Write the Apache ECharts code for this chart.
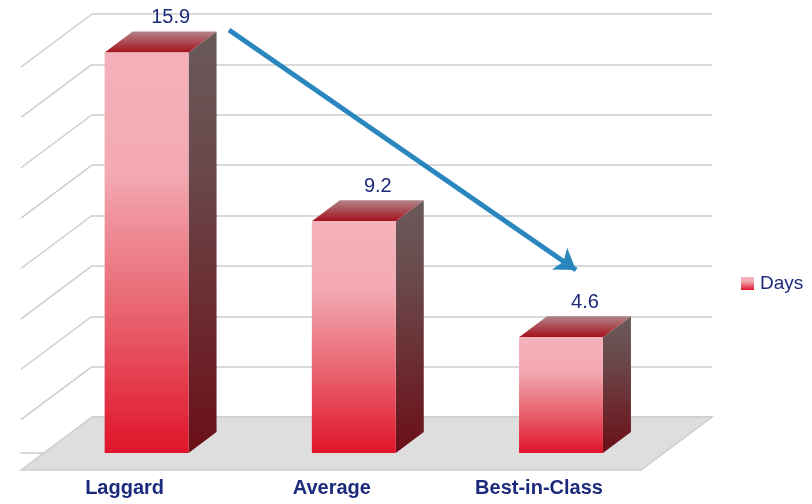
<!DOCTYPE html>
<html>
<head>
<meta charset="utf-8">
<title>Days</title>
<script src="https://cdn.jsdelivr.net/npm/echarts@6/dist/echarts.min.js"></script>
<style>
html, body {margin: 0; padding: 0; background: #fff;}
#chart {width: 812px; height: 504px;}
</style>
</head>
<body>
<div id="chart"></div>
<script>
var aCategories = ['Laggard', 'Average', 'Best-in-Class'];
var aDays = [15.9, 9.2, 4.6];
var aWallTicks = [2, 4, 6, 8, 10, 12, 14, 16];

var TEXT_COLOR = '#1b2a7b';
var GRID_COLOR = '#cdcdcd';
// depth of the whole floor, and of one bar
var FLOOR_DX = 71, FLOOR_DY = 53;
var BAR_DX = 28, BAR_DY = 21;
var BAR_SHIFT = 22;

function gradient(aStops) {
    return new echarts.graphic.LinearGradient(0, 0, 0, 1, aStops.map(function (s) {
        return {offset: s[0], color: s[1]};
    }));
}

var frontFill = [[0, '#f5b1ba'], [0.3, '#f3a9b2'], [0.65, '#e8636f'], [1, '#e0142a']];
var sideFill = [[0, '#6a5a5a'], [0.3, '#6a4a4c'], [1, '#6b0f17']];
var topFill = [[0, '#b08488'], [1, '#a5111c']];

function renderFloor(params, api) {
    var back = api.coord([0, 0]);
    var end = api.coord([1, 0]);
    return {
        type: 'polygon',
        silent: true,
        shape: {points: [back, end, [end[0] - FLOOR_DX, end[1] + FLOOR_DY], [back[0] - FLOOR_DX, back[1] + FLOOR_DY]]},
        style: {fill: '#dedede', stroke: GRID_COLOR, lineWidth: 1.5}
    };
}

function renderWall(params, api) {
    var p = api.coord([0, api.value(1)]);
    return {
        type: 'line',
        silent: true,
        shape: {x1: p[0], y1: p[1], x2: p[0] - FLOOR_DX, y2: p[1] + FLOOR_DY},
        style: {stroke: GRID_COLOR, lineWidth: 1.5}
    };
}

function renderBar(params, api) {
    var top = api.coord([api.value(0), api.value(1)]);
    var base = api.coord([api.value(0), 0]);
    var w = api.size([1, 0])[0] * 0.405;
    var l = top[0] + BAR_SHIFT - w / 2;
    var r = l + w;
    return {
        type: 'group',
        children: [
            {
                type: 'polygon',
                shape: {points: [[r, top[1]], [r + BAR_DX, top[1] - BAR_DY], [r + BAR_DX, base[1] - BAR_DY], [r, base[1]]]},
                style: {fill: gradient(sideFill)}
            },
            {
                type: 'polygon',
                shape: {points: [[l, top[1]], [l + BAR_DX, top[1] - BAR_DY], [r + BAR_DX, top[1] - BAR_DY], [r, top[1]]]},
                style: {fill: gradient(topFill)}
            },
            {
                type: 'rect',
                shape: {x: l, y: top[1], width: w, height: base[1] - top[1]},
                style: {fill: gradient(frontFill)}
            },
            {
                type: 'text',
                style: {
                    x: l + w / 2 + 24,
                    y: top[1] - BAR_DY - 14,
                    text: api.value(1).toFixed(1),
                    fill: TEXT_COLOR,
                    font: '20px "Liberation Sans"',
                    align: 'center',
                    verticalAlign: 'middle'
                }
            }
        ]
    };
}

var jOption = {
    animation: false,
    backgroundColor: '#fff',
    textStyle: {fontFamily: '"Liberation Sans"'},
    legend: {
        data: ['Days'],
        left: 736,
        top: 269,
        icon: 'rect',
        itemWidth: 13,
        itemHeight: 13,
        itemGap: 6,
        textStyle: {color: TEXT_COLOR, fontSize: 19, fontFamily: '"Liberation Sans"', padding: [0, 0, 0, 1]},
        selectedMode: false
    },
    grid: [
        {left: 92, top: 14, width: 620, height: 403},
        {left: 21, top: 50, width: 621.6, height: 403}
    ],
    xAxis: [
        {gridIndex: 0, type: 'value', min: 0, max: 1, show: false},
        {
            gridIndex: 1,
            type: 'category',
            data: aCategories,
            offset: 17,
            axisLine: {lineStyle: {color: GRID_COLOR, width: 1.5}},
            axisTick: {length: 6, lineStyle: {color: GRID_COLOR, width: 1.5}},
            axisLabel: {color: TEXT_COLOR, fontSize: 20, fontWeight: 'bold', margin: 8, fontFamily: '"Liberation Sans"'}
        }
    ],
    yAxis: [
        {
            gridIndex: 0,
            type: 'value',
            min: 0,
            max: 16,
            interval: 2,
            axisLine: {show: false},
            axisTick: {show: false},
            axisLabel: {show: false},
            splitLine: {lineStyle: {color: GRID_COLOR, width: 1.5}}
        },
        {gridIndex: 1, type: 'value', min: 0, max: 16, show: false, splitLine: {show: false}}
    ],
    series: [
        {
            type: 'custom',
            name: 'floor',
            xAxisIndex: 0,
            yAxisIndex: 0,
            silent: true,
            clip: false,
            z: 1,
            renderItem: renderFloor,
            data: [[0, 0]]
        },
        {
            type: 'custom',
            name: 'wall',
            xAxisIndex: 0,
            yAxisIndex: 0,
            silent: true,
            clip: false,
            z: 1,
            renderItem: renderWall,
            data: aWallTicks.map(function (v) { return [0, v]; })
        },
        {
            type: 'custom',
            name: 'Days',
            xAxisIndex: 1,
            yAxisIndex: 1,
            clip: false,
            z: 3,
            itemStyle: {color: gradient([[0, '#f5b1ba'], [0.35, '#f3a9b2'], [1, '#e0142a']])},
            renderItem: renderBar,
            data: aDays.map(function (v, i) { return [i, v]; }),
            markLine: {
                silent: true,
                z: 4,
                symbol: ['none', 'arrow'],
                symbolSize: 20,
                label: {show: false},
                lineStyle: {color: '#2a86be', width: 5, type: 'solid'},
                data: [[{x: 229, y: 30}, {x: 576, y: 270}]]
            }
        }
    ]
};

var oChart = echarts.init(document.getElementById('chart'), null, {renderer: 'canvas'});
oChart.setOption(jOption);
</script>
</body>
</html>
